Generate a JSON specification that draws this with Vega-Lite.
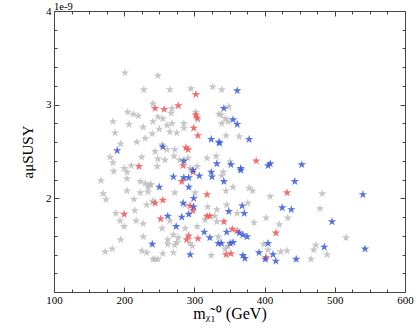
{
  "$schema": "https://vega.github.io/schema/vega-lite/v6.json",
  "width": 351,
  "height": 281,
  "autosize": "none",
  "padding": {"left": 54, "top": 11, "right": 14, "bottom": 44},
  "background": "white",
  "config": {
    "view": {"stroke": null},
    "axis": {"grid": false, "labelFont": "Liberation Serif", "titleFont": "Liberation Serif", "domainColor": "#444444", "tickColor": "#444444", "labelColor": "#000000", "titleColor": "#000000", "titleFontWeight": "normal", "labelFontSize": 11}
  },
  "title": {"text": "1e-9", "anchor": "start", "frame": "group", "font": "Liberation Serif", "fontSize": 10.5, "fontWeight": "normal", "offset": 0, "dy": 7, "color": "#000000"},
  "data": {"values": [
    {"m":201,"a":3.34e-9,"s":"grey"},{"m":205,"a":2.92e-9,"s":"grey"},{"m":213,"a":2.90e-9,"s":"grey"},{"m":220,"a":2.88e-9,"s":"grey"},
    {"m":184,"a":2.82e-9,"s":"grey"},{"m":207,"a":2.79e-9,"s":"grey"},{"m":187,"a":2.70e-9,"s":"grey"},{"m":195,"a":2.58e-9,"s":"grey"},
    {"m":218,"a":2.60e-9,"s":"grey"},{"m":180,"a":2.44e-9,"s":"grey"},{"m":184,"a":2.38e-9,"s":"grey"},{"m":185,"a":2.29e-9,"s":"grey"},
    {"m":200,"a":2.32e-9,"s":"grey"},{"m":204,"a":2.28e-9,"s":"grey"},{"m":210,"a":2.35e-9,"s":"grey"},{"m":225,"a":2.44e-9,"s":"grey"},
    {"m":167,"a":2.19e-9,"s":"grey"},{"m":204,"a":2.21e-9,"s":"grey"},{"m":223,"a":2.18e-9,"s":"grey"},{"m":234,"a":2.12e-9,"s":"grey"},
    {"m":238,"a":2.15e-9,"s":"grey"},{"m":170,"a":2.05e-9,"s":"grey"},{"m":174,"a":1.99e-9,"s":"grey"},{"m":204,"a":2.08e-9,"s":"grey"},
    {"m":223,"a":2.06e-9,"s":"grey"},{"m":234,"a":2.07e-9,"s":"grey"},{"m":214,"a":1.99e-9,"s":"grey"},{"m":241,"a":1.97e-9,"s":"grey"},
    {"m":188,"a":1.84e-9,"s":"grey"},{"m":215,"a":1.87e-9,"s":"grey"},{"m":194,"a":1.76e-9,"s":"grey"},{"m":217,"a":1.76e-9,"s":"grey"},
    {"m":227,"a":1.73e-9,"s":"grey"},{"m":200,"a":1.70e-9,"s":"grey"},{"m":227,"a":1.59e-9,"s":"grey"},{"m":195,"a":1.56e-9,"s":"grey"},
    {"m":183,"a":1.46e-9,"s":"grey"},{"m":173,"a":1.43e-9,"s":"grey"},{"m":225,"a":1.44e-9,"s":"grey"},{"m":232,"a":1.42e-9,"s":"grey"},
    {"m":244,"a":1.35e-9,"s":"grey"},{"m":248,"a":1.35e-9,"s":"grey"},{"m":227,"a":2.76e-9,"s":"grey"},{"m":230,"a":2.64e-9,"s":"grey"},
    {"m":248,"a":3.31e-9,"s":"grey"},{"m":228,"a":3.16e-9,"s":"grey"},{"m":265,"a":3.16e-9,"s":"grey"},{"m":295,"a":3.17e-9,"s":"grey"},
    {"m":326,"a":3.19e-9,"s":"grey"},{"m":241,"a":3.01e-9,"s":"grey"},{"m":268,"a":2.96e-9,"s":"grey"},{"m":267,"a":2.91e-9,"s":"grey"},
    {"m":302,"a":2.92e-9,"s":"grey"},{"m":305,"a":2.84e-9,"s":"grey"},{"m":335,"a":2.90e-9,"s":"grey"},{"m":248,"a":2.87e-9,"s":"grey"},
    {"m":255,"a":2.85e-9,"s":"grey"},{"m":241,"a":2.82e-9,"s":"grey"},{"m":268,"a":2.80e-9,"s":"grey"},{"m":261,"a":2.78e-9,"s":"grey"},
    {"m":285,"a":2.80e-9,"s":"grey"},{"m":285,"a":2.75e-9,"s":"grey"},{"m":250,"a":2.74e-9,"s":"grey"},{"m":265,"a":2.71e-9,"s":"grey"},
    {"m":275,"a":2.70e-9,"s":"grey"},{"m":240,"a":2.69e-9,"s":"grey"},{"m":254,"a":2.57e-9,"s":"grey"},{"m":261,"a":2.52e-9,"s":"grey"},
    {"m":272,"a":2.52e-9,"s":"grey"},{"m":244,"a":2.50e-9,"s":"grey"},{"m":248,"a":2.42e-9,"s":"grey"},{"m":258,"a":2.41e-9,"s":"grey"},
    {"m":271,"a":2.45e-9,"s":"grey"},{"m":279,"a":2.41e-9,"s":"grey"},{"m":291,"a":2.43e-9,"s":"grey"},{"m":318,"a":2.43e-9,"s":"grey"},
    {"m":331,"a":2.45e-9,"s":"grey"},{"m":247,"a":2.34e-9,"s":"grey"},{"m":304,"a":2.34e-9,"s":"grey"},{"m":294,"a":2.32e-9,"s":"grey"},
    {"m":339,"a":3.16e-9,"s":"grey"},{"m":349,"a":2.98e-9,"s":"grey"},{"m":338,"a":2.89e-9,"s":"grey"},{"m":344,"a":2.85e-9,"s":"grey"},
    {"m":339,"a":2.80e-9,"s":"grey"},{"m":348,"a":2.82e-9,"s":"grey"},{"m":345,"a":2.67e-9,"s":"grey"},{"m":364,"a":2.66e-9,"s":"grey"},
    {"m":351,"a":2.39e-9,"s":"grey"},{"m":230,"a":2.16e-9,"s":"grey"},{"m":237,"a":2.14e-9,"s":"grey"},{"m":272,"a":2.06e-9,"s":"grey"},
    {"m":301,"a":2.06e-9,"s":"grey"},{"m":241,"a":1.96e-9,"s":"grey"},{"m":232,"a":1.93e-9,"s":"grey"},{"m":287,"a":1.93e-9,"s":"grey"},
    {"m":319,"a":1.91e-9,"s":"grey"},{"m":332,"a":1.88e-9,"s":"grey"},{"m":329,"a":1.81e-9,"s":"grey"},{"m":332,"a":1.75e-9,"s":"grey"},
    {"m":265,"a":1.76e-9,"s":"grey"},{"m":315,"a":1.77e-9,"s":"grey"},{"m":254,"a":1.68e-9,"s":"grey"},{"m":304,"a":1.70e-9,"s":"grey"},
    {"m":287,"a":1.68e-9,"s":"grey"},{"m":270,"a":1.61e-9,"s":"grey"},{"m":277,"a":1.58e-9,"s":"grey"},{"m":262,"a":1.56e-9,"s":"grey"},
    {"m":294,"a":1.52e-9,"s":"grey"},{"m":334,"a":1.59e-9,"s":"grey"},{"m":262,"a":1.51e-9,"s":"grey"},{"m":275,"a":1.53e-9,"s":"grey"},
    {"m":272,"a":1.50e-9,"s":"grey"},{"m":270,"a":1.42e-9,"s":"grey"},{"m":255,"a":1.41e-9,"s":"grey"},{"m":297,"a":1.49e-9,"s":"grey"},
    {"m":241,"a":1.35e-9,"s":"grey"},{"m":324,"a":1.39e-9,"s":"grey"},{"m":341,"a":2.28e-9,"s":"grey"},{"m":339,"a":2.24e-9,"s":"grey"},
    {"m":355,"a":2.12e-9,"s":"grey"},{"m":345,"a":2.08e-9,"s":"grey"},{"m":378,"a":2.11e-9,"s":"grey"},{"m":383,"a":2.08e-9,"s":"grey"},
    {"m":408,"a":2.02e-9,"s":"grey"},{"m":376,"a":1.95e-9,"s":"grey"},{"m":346,"a":1.93e-9,"s":"grey"},{"m":361,"a":1.84e-9,"s":"grey"},
    {"m":402,"a":1.79e-9,"s":"grey"},{"m":433,"a":1.79e-9,"s":"grey"},{"m":385,"a":1.74e-9,"s":"grey"},{"m":421,"a":1.72e-9,"s":"grey"},
    {"m":339,"a":1.52e-9,"s":"grey"},{"m":348,"a":1.49e-9,"s":"grey"},{"m":344,"a":1.46e-9,"s":"grey"},{"m":399,"a":1.51e-9,"s":"grey"},
    {"m":405,"a":1.45e-9,"s":"grey"},{"m":423,"a":1.43e-9,"s":"grey"},{"m":432,"a":1.44e-9,"s":"grey"},{"m":482,"a":2.05e-9,"s":"grey"},
    {"m":479,"a":1.89e-9,"s":"grey"},{"m":516,"a":1.58e-9,"s":"grey"},{"m":473,"a":1.50e-9,"s":"grey"},{"m":470,"a":1.45e-9,"s":"grey"},
    {"m":489,"a":1.40e-9,"s":"grey"},{"m":466,"a":1.35e-9,"s":"grey"},
    {"m":221,"a":2.34e-9,"s":"red"},{"m":200,"a":1.83e-9,"s":"red"},{"m":302,"a":3.11e-9,"s":"red"},{"m":244,"a":2.96e-9,"s":"red"},
    {"m":257,"a":2.95e-9,"s":"red"},{"m":277,"a":2.99e-9,"s":"red"},{"m":302,"a":2.89e-9,"s":"red"},{"m":304,"a":2.86e-9,"s":"red"},
    {"m":299,"a":2.75e-9,"s":"red"},{"m":305,"a":2.67e-9,"s":"red"},{"m":288,"a":2.54e-9,"s":"red"},{"m":291,"a":2.52e-9,"s":"red"},
    {"m":284,"a":2.35e-9,"s":"red"},{"m":388,"a":2.40e-9,"s":"red"},{"m":282,"a":2.18e-9,"s":"red"},{"m":298,"a":2.28e-9,"s":"red"},
    {"m":318,"a":2.04e-9,"s":"red"},{"m":244,"a":1.95e-9,"s":"red"},{"m":255,"a":1.98e-9,"s":"red"},{"m":294,"a":1.92e-9,"s":"red"},
    {"m":298,"a":1.87e-9,"s":"red"},{"m":318,"a":1.81e-9,"s":"red"},{"m":322,"a":1.81e-9,"s":"red"},{"m":252,"a":1.78e-9,"s":"red"},
    {"m":292,"a":1.60e-9,"s":"red"},{"m":289,"a":1.56e-9,"s":"red"},{"m":305,"a":1.57e-9,"s":"red"},{"m":432,"a":2.06e-9,"s":"red"},
    {"m":342,"a":1.75e-9,"s":"red"},{"m":416,"a":1.63e-9,"s":"red"},{"m":354,"a":1.67e-9,"s":"red"},{"m":361,"a":1.65e-9,"s":"red"},
    {"m":345,"a":1.40e-9,"s":"red"},{"m":352,"a":1.41e-9,"s":"red"},{"m":402,"a":1.37e-9,"s":"red"},
    {"m":190,"a":2.51e-9,"s":"blue"},{"m":324,"a":2.63e-9,"s":"blue"},{"m":335,"a":2.60e-9,"s":"blue"},{"m":255,"a":2.55e-9,"s":"blue"},
    {"m":285,"a":2.40e-9,"s":"blue"},{"m":332,"a":2.37e-9,"s":"blue"},{"m":361,"a":3.15e-9,"s":"blue"},{"m":342,"a":2.96e-9,"s":"blue"},
    {"m":355,"a":2.84e-9,"s":"blue"},{"m":361,"a":2.79e-9,"s":"blue"},{"m":378,"a":2.63e-9,"s":"blue"},{"m":336,"a":2.59e-9,"s":"blue"},
    {"m":408,"a":2.37e-9,"s":"blue"},{"m":405,"a":2.35e-9,"s":"blue"},{"m":352,"a":2.36e-9,"s":"blue"},{"m":366,"a":2.32e-9,"s":"blue"},
    {"m":453,"a":2.36e-9,"s":"blue"},{"m":270,"a":2.23e-9,"s":"blue"},{"m":285,"a":2.22e-9,"s":"blue"},{"m":292,"a":2.22e-9,"s":"blue"},
    {"m":298,"a":2.30e-9,"s":"blue"},{"m":307,"a":2.24e-9,"s":"blue"},{"m":324,"a":2.28e-9,"s":"blue"},{"m":325,"a":2.23e-9,"s":"blue"},
    {"m":250,"a":2.12e-9,"s":"blue"},{"m":292,"a":2.12e-9,"s":"blue"},{"m":284,"a":1.95e-9,"s":"blue"},{"m":299,"a":2.00e-9,"s":"blue"},
    {"m":299,"a":1.91e-9,"s":"blue"},{"m":292,"a":1.83e-9,"s":"blue"},{"m":282,"a":1.80e-9,"s":"blue"},{"m":262,"a":1.81e-9,"s":"blue"},
    {"m":274,"a":1.70e-9,"s":"blue"},{"m":314,"a":1.64e-9,"s":"blue"},{"m":322,"a":1.58e-9,"s":"blue"},{"m":334,"a":1.52e-9,"s":"blue"},
    {"m":240,"a":1.51e-9,"s":"blue"},{"m":294,"a":1.40e-9,"s":"blue"},{"m":342,"a":2.18e-9,"s":"blue"},{"m":366,"a":2.30e-9,"s":"blue"},
    {"m":443,"a":2.18e-9,"s":"blue"},{"m":368,"a":1.92e-9,"s":"blue"},{"m":371,"a":1.84e-9,"s":"blue"},{"m":349,"a":1.86e-9,"s":"blue"},
    {"m":425,"a":1.90e-9,"s":"blue"},{"m":438,"a":1.88e-9,"s":"blue"},{"m":346,"a":1.64e-9,"s":"blue"},{"m":364,"a":1.63e-9,"s":"blue"},
    {"m":369,"a":1.61e-9,"s":"blue"},{"m":375,"a":1.59e-9,"s":"blue"},{"m":338,"a":1.52e-9,"s":"blue"},{"m":351,"a":1.52e-9,"s":"blue"},
    {"m":355,"a":1.53e-9,"s":"blue"},{"m":369,"a":1.39e-9,"s":"blue"},{"m":372,"a":1.36e-9,"s":"blue"},{"m":405,"a":1.52e-9,"s":"blue"},
    {"m":392,"a":1.42e-9,"s":"blue"},{"m":412,"a":1.40e-9,"s":"blue"},{"m":401,"a":1.35e-9,"s":"blue"},{"m":416,"a":1.33e-9,"s":"blue"},
    {"m":445,"a":1.35e-9,"s":"blue"},{"m":540,"a":2.04e-9,"s":"blue"},{"m":496,"a":1.75e-9,"s":"blue"},{"m":485,"a":1.48e-9,"s":"blue"},
    {"m":543,"a":1.46e-9,"s":"blue"}
  ]},
  "layer": [
    {
      "mark": {"type": "point", "shape": "M0,-1L0.2245,-0.309L0.951,-0.309L0.363,0.118L0.588,0.809L0,0.382L-0.588,0.809L-0.363,0.118L-0.951,-0.309L-0.2245,-0.309Z", "filled": true, "size": 80, "opacity": 0.85, "strokeWidth": 0},
      "encoding": {
        "x": {"field": "m", "type": "quantitative", "scale": {"domain": [100, 600], "nice": false, "zero": false},
          "axis": {"orient": "bottom", "values": [100, 200, 300, 400, 500, 600], "tickSize": -5, "labelPadding": 7, "title": "mᵪ̃₁⁰ (GeV)", "titleFontSize": 16, "titlePadding": 0, "labelFlush": false}},
        "y": {"field": "a", "type": "quantitative", "scale": {"domain": [1e-9, 4e-9], "nice": false, "zero": false},
          "axis": {"orient": "left", "values": [1e-9, 2e-9, 3e-9, 4e-9], "tickSize": -5, "labelPadding": 8, "labelExpr": "datum.value < 1.5e-9 ? '' : format(round(datum.value * 1e9), 'd')", "title": "aμSUSY", "titleFontSize": 15, "titlePadding": 10, "labelFlush": false}},
        "color": {"field": "s", "type": "nominal", "scale": {"domain": ["grey", "red", "blue"], "range": ["#bdbdbd", "#f25555", "#3a5cd8"]}, "legend": null}
      }
    },
    {
      "mark": {"type": "point", "opacity": 0},
      "encoding": {
        "x": {"field": "m", "type": "quantitative", "axis": {"orient": "bottom", "values": [125,150,175,225,250,275,325,350,375,425,450,475,525,550,575], "tickSize": -3, "labels": false, "domain": false, "title": null}},
        "y": {"field": "a", "type": "quantitative", "axis": {"orient": "left", "values": [1.2e-9,1.4e-9,1.6e-9,1.8e-9,2.2e-9,2.4e-9,2.6e-9,2.8e-9,3.2e-9,3.4e-9,3.6e-9,3.8e-9], "tickSize": -3, "labels": false, "domain": false, "title": null}}
      }
    },
    {
      "mark": {"type": "point", "opacity": 0},
      "encoding": {
        "x": {"field": "m", "type": "quantitative", "axis": {"orient": "top", "values": [100, 200, 300, 400, 500, 600], "tickSize": -5, "labels": false, "title": null}},
        "y": {"field": "a", "type": "quantitative", "axis": {"orient": "right", "values": [1e-9, 2e-9, 3e-9, 4e-9], "tickSize": -5, "labels": false, "title": null}}
      }
    },
    {
      "mark": {"type": "point", "opacity": 0},
      "encoding": {
        "x": {"field": "m", "type": "quantitative", "axis": {"orient": "top", "values": [125,150,175,225,250,275,325,350,375,425,450,475,525,550,575], "tickSize": -3, "labels": false, "domain": false, "title": null}},
        "y": {"field": "a", "type": "quantitative", "axis": {"orient": "right", "values": [1.2e-9,1.4e-9,1.6e-9,1.8e-9,2.2e-9,2.4e-9,2.6e-9,2.8e-9,3.2e-9,3.4e-9,3.6e-9,3.8e-9], "tickSize": -3, "labels": false, "domain": false, "title": null}}
      }
    }
  ],
  "resolve": {"axis": {"x": "independent", "y": "independent"}}
}
